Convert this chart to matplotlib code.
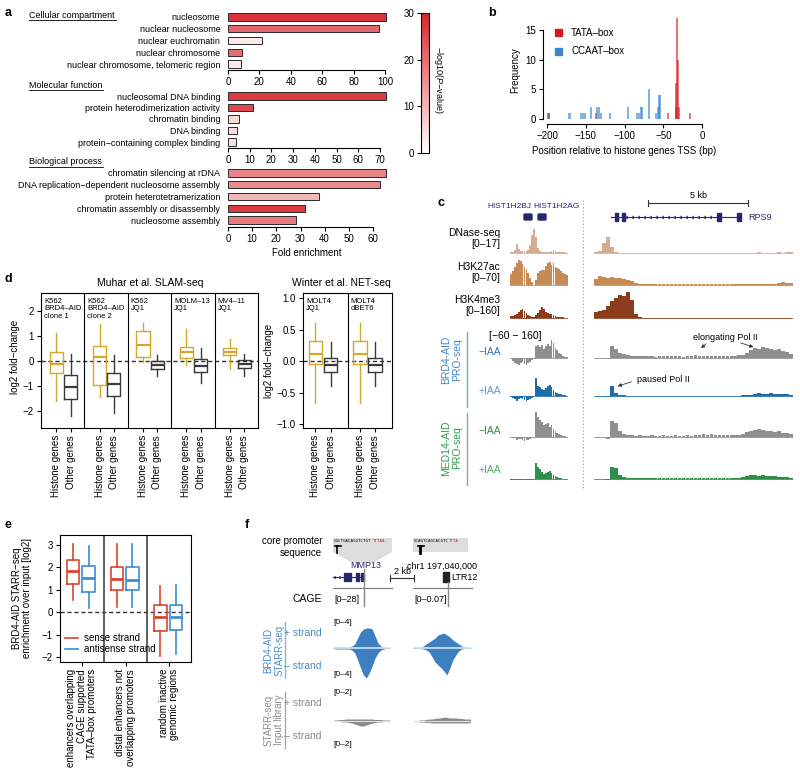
import numpy as np
import matplotlib
matplotlib.use('Agg')
import matplotlib.pyplot as plt
from matplotlib.colors import LinearSegmentedColormap, Normalize
from matplotlib.patches import Rectangle, FancyBboxPatch, Polygon
from matplotlib.cm import ScalarMappable

plt.rcParams['font.family'] = ['Liberation Sans', 'DejaVu Sans']
plt.rcParams['mathtext.fontset'] = 'custom'
plt.rcParams['mathtext.rm'] = 'Liberation Sans'
plt.rcParams['mathtext.it'] = 'Liberation Sans:italic'
plt.rcParams['font.size'] = 7
plt.rcParams['axes.linewidth'] = 0.8
plt.rcParams['xtick.major.width'] = 0.8
plt.rcParams['ytick.major.width'] = 0.8
plt.rcParams['xtick.major.size'] = 3
plt.rcParams['ytick.major.size'] = 3
plt.rcParams['xtick.major.pad'] = 2
plt.rcParams['ytick.major.pad'] = 2

# ---- panel a: GO enrichment ----
cc_terms = ['nucleosome', 'nuclear nucleosome', 'nuclear euchromatin', 'nuclear chromosome',
            'nuclear chromosome, telomeric region']
cc_fold = [100.5, 96, 21.5, 8.7, 8.2]
cc_logp = [28, 21, 3, 20, 3]
mf_terms = ['nucleosomal DNA binding', 'protein heterodimerization activity', 'chromatin binding',
            'DNA binding', 'protein−containing complex binding']
mf_fold = [72.7, 11.6, 5.0, 4.1, 3.7]
mf_logp = [27, 25, 5, 5, 4]
bp_terms = ['chromatin silencing at rDNA', 'DNA replication−dependent nucleosome assembly',
            'protein heterotetramerization', 'chromatin assembly or disassembly', 'nucleosome assembly']
bp_fold = [65.2, 62.9, 37.6, 31.8, 28.1]
bp_logp = [17, 16, 10, 27, 18]

# ---- panel b: motif positions ----
tata_pos = [-199, -198, -137, -44, -34, -33, -32, -31, -30, -15]
tata_count = [1, 1, 1, 1, 2, 6, 17, 10, 2, 1]
ccaat_pos = [-198, -171, -156, -153, -151, -143, -136, -133, -130, -119, -96, -84, -81, -79, -77,
             -69, -60, -57, -56, -54]
ccaat_count = [1, 1, 1, 1, 1, 2, 2, 2, 1, 1, 2, 1, 1, 2, 2, 5, 1, 2, 4, 4]

# ---- panel c: browser tracks (left = histone locus, right = RPS9) ----
dnase_l = [1, 1, 3, 9, 4, 2, 2, 2, 2, 3, 8, 18, 24, 16, 5, 2, 1, 1, 1, 1, 1, 2, 3, 2, 1, 1, 1, 1, 1, 0.5]
dnase_r = [1, 2, 10, 16, 6, 1, 0.5, 0.5, 0.3, 0.3, 0.3, 0.3, 0.3, 0.3, 0.3, 0.3, 0.3, 0.3, 0.3, 0.3,
           0.3, 0.3, 0.3, 0.3, 0.3, 0.3, 0.3, 0.3, 0.3, 0.3, 0.3, 0.3, 0.3, 0.3, 0.3, 0.3, 0.3, 0.3, 0.3, 0.3,
           0.4, 0.6, 0.4, 0.4, 0.5, 0.4, 0.8, 0.5, 0.6, 1.5]
k27_l = [11, 14, 18, 22, 25, 24, 21, 18, 16, 12, 7, 3, 0.5, 5, 12, 14, 15, 15, 19, 22, 23, 20, 22, 18,
         17, 16, 14, 12, 11, 10]
k27_r = [6, 9, 8, 7, 8, 7, 7, 6, 5, 4, 2, 1.5, 1, 1, 1, 1, 1.2, 1, 1, 1, 1, 1, 1.2, 1, 1, 1, 1, 1, 1.2, 1,
         1, 1, 1, 1.2, 1, 1, 1, 1, 1, 1, 1, 1, 1.2, 1, 1, 1.5, 2, 3, 2.5, 2]
k4_l = [2, 2, 3, 4, 6, 8, 9, 7, 5, 3, 2, 1, 1, 3, 5, 8, 11, 9, 6, 5, 4, 4, 3, 2, 1, 1, 1, 1, 0.5, 0.5]
k4_r = [6, 7, 8, 12, 17, 20, 23, 22, 26, 18, 4, 1, 0.5, 0.5, 0.5, 0.3, 0.3, 0.3, 0.3, 0.3,
        0.3, 0.3, 0.3, 0.3, 0.3, 0.3, 0.3, 0.3, 0.3, 0.3, 0.3, 0.3, 0.3, 0.3, 0.3, 0.3, 0.3, 0.3, 0.3, 0.3,
        0.3, 0.3, 0.3, 0.3, 0.3, 0.3, 0.3, 0.3, 0.3, 0.3]
brd_ctrl_l = [-1, -3, -5, -6, -7, -5, -4, -6, -7, -5, -4, -2, 0, 12, 13, 11, 13, 9, 12, 14, 12, 18, 15,
              10, 8, 5, 4, 2, 1, 1]
brd_ctrl_r = [0.5, 0.5, 0.5, -1, 12, 9, 5, 4, 3, 2.5, 2, 2, 2.5, 2, 2, 1.5, 2, 2, 2, 2.5,
              2, 2, 1.5, 2, 2, 3, 2, 2, 2, 2.5, 2, 2, 2, 2.5, 2, 2, 3, 3, 5, 8,
              10, 9, 11, 10, 9, 8, 9, 7, 6, 4]
brd_iaa_l = [-1, -2, -3, -5, -3, -2, -3, -4, -5, -4, -3, -2, 0, 18, 10, 9, 7, 6, 8, 10, 11, 9, 6, 4, 3,
             2, 2, 1, 1, 0.5]
brd_iaa_r = [0.3, 0.3, 0.3, -1, 10, 3, 1.5, 0.8, 0.5, 0.5, 0.5, 0.4, 0.5, 0.5, 0.4, 0.5, 0.5, 0.5, 0.4, 0.5,
             0.5, 0.5, 0.4, 0.5, 0.5, 0.5, 0.4, 0.5, 0.5, 0.5, 0.5, 0.4, 0.5, 0.5, 0.5, 0.5, 0.5, 0.6, 1, 1.5,
             2.5, 3, 2.5, 2.5, 3, 2, 2.5, 2, 2, 1.5]
med_ctrl_l = [0, -1, -1, -3, -2, -2, -3, -4, -3, -3, -2, -1, 0, 25, 20, 17, 15, 12, 13, 14, 10, 12, 8, 6,
              4, 3, 2, 1, 1, 0.5]
med_ctrl_r = [0.5, 0.5, 0.5, -2, 16, 14, 6, 3, 2, 2, 1.5, 2, 1.5, 1.5, 2, 1.5, 1.5, 2, 1.5, 1.5,
              2, 1.5, 1.5, 2, 1.5, 2, 2, 3, 2.5, 3, 2, 2.5, 2, 2, 2, 2, 2.5, 3, 5, 6,
              7, 8, 7, 6, 6, 5, 6, 4, 4, 3]
med_iaa_l = [-0.5, -0.5, -1, -1, -1, -0.5, -1, -1, -1, -0.5, -0.5, -0.5, 0, 16, 12, 10, 7, 5, 6, 7, 8, 6,
             4, 3, 2, 1.5, 1, 0.5, 0.5, 0.3]
med_iaa_r = [0.3, 0.3, 0.3, -1, 12, 11, 4, 2, 1, 1, 0.8, 0.8, 1, 0.8, 0.8, 1, 0.8, 0.8, 1, 0.8,
             0.8, 1, 0.8, 1, 0.8, 1, 1, 1.2, 1, 1, 1, 1.2, 1, 1, 1, 1, 1.5, 2, 3, 4,
             4, 3, 4, 3, 3, 3, 2, 2, 2, 1]

# ---- panel d: fold-change boxplots (whislo, q1, med, q3, whishi) ----
slam_facets = ['K562\nBRD4–AID\nclone 1', 'K562\nBRD4–AID\nclone 2', 'K562\nJQ1', 'MOLM–13\nJQ1', 'MV4–11\nJQ1']
slam_histone = [[-1.6, -0.47, -0.13, 0.37, 1.11], [-1.43, -0.96, 0.15, 0.6, 1.48],
                [-0.05, 0.16, 0.63, 1.21, 1.51], [-0.16, 0.13, 0.37, 0.57, 1.27],
                [-0.33, 0.23, 0.37, 0.51, 0.87]]
slam_other = [[-2.19, -1.51, -1.03, -0.55, 0.28], [-2.09, -1.39, -0.93, -0.49, 0.24],
              [-0.6, -0.32, -0.17, 0.0, 0.24], [-0.89, -0.45, -0.19, 0.1, 0.52],
              [-0.6, -0.29, -0.12, 0.04, 0.28]]
net_facets = ['MOLT4\nJQ1', 'MOLT4\ndBET6']
net_histone = [[-0.66, -0.05, 0.12, 0.32, 0.61], [-0.66, -0.05, 0.12, 0.32, 0.61]]
net_other = [[-0.39, -0.17, -0.06, 0.05, 0.31], [-0.39, -0.17, -0.06, 0.05, 0.31]]

# ---- panel e: STARR-seq enrichment ----
e_groups = ['enhancers overlapping\nCAGE supported\nTATA–box promoters',
            'distal enhancers not\noverlapping promoters',
            'random inactive\ngenomic regions']
e_sense = [[0.54, 1.28, 1.85, 2.33, 3.07], [0.24, 0.99, 1.49, 2.03, 3.03], [-1.97, -0.85, -0.21, 0.31, 1.19]]
e_antisense = [[0.21, 0.91, 1.51, 2.06, 2.96], [0.24, 0.99, 1.46, 2.0, 3.03], [-1.85, -0.81, -0.21, 0.33, 1.21]]

# ---- panel f: STARR-seq tracks (MMP13 / LTR12) ----
starr_plus_1 = [1, 1, 1, 1, 1, 1, 2, 4, 10, 16, 19, 20, 20, 19, 12, 5, 2, 1, 0.5, 0.5]
starr_minus_1 = [-1, -1, -1, -1, -1, -1, -2, -5, -12, -20, -27, -30, -25, -18, -10, -5, -2, -1, -0.5, -0.5]
starr_plus_2 = [0.5, 1, 1, 2, 4, 6, 8, 10, 13, 14, 15, 13, 11, 8, 6, 4, 2, 1, 0.5, 0.5]
starr_minus_2 = [0, 0, -0.5, -1, -2, -4, -9, -14, -17, -20, -23, -27, -20, -12, -7, -3, -1, -0.5, 0, 0]
input_plus_1 = [1, 1, 1.5, 1.5, 2, 2, 2, 2, 2, 2, 2, 2, 2, 2, 1.5, 1.5, 1.5, 1, 1, 1]
input_minus_1 = [-0.5, -0.5, -0.5, -1, -1, -1.5, -2, -3, -4, -5, -5, -4, -3, -2, -1.5, -1, -1, -0.5, -0.5, -0.5]
input_plus_2 = [0.5, 0.5, 1, 1, 1.5, 2, 2, 2.5, 3, 3, 4, 3.5, 3, 3, 3, 2.5, 2.5, 2, 2, 2]
input_minus_2 = [-0.5, -0.5, -1, -1, -1.5, -1.5, -2, -2, -2, -2, -2, -2, -2, -2, -2, -2, -2, -2, -2, -1.5]

W, H = 800, 770
fig = plt.figure(figsize=(8, 7.7), dpi=100)


def px_axes(x0, y0, x1, y1):
    return fig.add_axes([x0 / W, 1 - y1 / H, (x1 - x0) / W, (y1 - y0) / H])


# overlay for free text and decorations, drawn on top
ov = fig.add_axes([0, 0, 1, 1])
ov.set_xlim(0, W)
ov.set_ylim(H, 0)
ov.axis('off')
ov.set_zorder(10)

for lab, x, y in [('a', 8, 13), ('b', 492, 13), ('c', 441, 203), ('d', 8, 279), ('e', 8, 525), ('f', 247, 525)]:
    ov.text(x, y, lab, fontsize=9, fontweight='bold', ha='center', va='center')

# ================= panel a =================
go_cmap = LinearSegmentedColormap.from_list('go', ['#ffffff', '#d7262c'])
go_norm = Normalize(0, 30)


def go_axes(y_top, y_bot, row0, step, xmax, xticks, terms, fold, logp):
    ax = px_axes(228, y_top, 386, y_bot)
    rows = np.arange(len(terms))
    ax.barh(rows, fold, height=0.62, color=go_cmap(go_norm(logp)), edgecolor='#2a2a2a',
            linewidth=0.7, clip_on=False)
    ax.set_ylim((y_bot - row0) / step, (y_top - row0) / step)
    ax.set_xlim(0, xmax)
    ax.set_yticks(rows)
    ax.set_yticklabels(terms, fontsize=6.5)
    ax.tick_params(axis='y', length=0, pad=5.5)
    ax.set_xticks(xticks)
    ax.tick_params(axis='x', labelsize=7)
    for s in ['top', 'right', 'left']:
        ax.spines[s].set_visible(False)
    ax.spines['bottom'].set_bounds(xticks[0], xticks[-1])
    ax.patch.set_alpha(0)
    return ax


go_axes(11, 70, 17, 11.75, 158 / 1.57, [0, 20, 40, 60, 80, 100], cc_terms, cc_fold, cc_logp)
go_axes(90, 148, 96, 11.5, 158 / 2.171, [0, 10, 20, 30, 40, 50, 60, 70], mf_terms, mf_fold, mf_logp)
ax_bp = go_axes(167, 227, 173, 11.75, 158 / 2.417, [0, 10, 20, 30, 40, 50, 60], bp_terms, bp_fold, bp_logp)
ax_bp.set_xlabel('Fold enrichment', fontsize=7, labelpad=3)

for txt, y, x1 in [('Cellular compartment', 15, 116), ('Molecular function', 85, 103),
                   ('Biological process', 162, 103)]:
    ov.text(29, y, txt, fontsize=6.5, ha='left', va='center')
    ov.plot([29, x1], [y + 4.5, y + 4.5], color='black', lw=0.6)

cax = px_axes(421, 13, 429, 153)
cb = fig.colorbar(ScalarMappable(norm=go_norm, cmap=go_cmap), cax=cax, ticks=[0, 10, 20, 30])
cax.yaxis.set_ticks_position('left')
cax.tick_params(labelsize=7, length=3)
cb.outline.set_linewidth(0.8)
ov.text(438, 80, r'−log10($\it{P}$−value)', rotation=270, fontsize=6.5, ha='center', va='center')

# ================= panel b =================
axb = px_axes(543, 15, 712, 124)
axb.bar(tata_pos, tata_count, width=2.6, color='#d7191c', alpha=0.6, linewidth=0)
axb.bar(ccaat_pos, ccaat_count, width=2.6, color='#2f7fd0', alpha=0.6, linewidth=0)
axb.set_xlim(-205.2, 12.9)
axb.set_ylim(-0.84, 17.5)
for s in ['top', 'right']:
    axb.spines[s].set_visible(False)
axb.spines['left'].set_bounds(0, 15)
axb.spines['bottom'].set_bounds(-200, 0)
axb.set_xticks([-200, -150, -100, -50, 0])
axb.set_xticklabels(['−200', '−150', '−100', '−50', '0'])
axb.set_yticks([0, 5, 10, 15])
axb.tick_params(labelsize=7)
axb.patch.set_alpha(0)
ov.text(624, 151, 'Position relative to histone genes TSS (bp)', fontsize=7, ha='center', va='center')
ov.text(515, 70, 'Frequency', fontsize=7, rotation=90, ha='center', va='center')
ov.add_patch(Rectangle((555, 29), 7, 7, color='#d7191c'))
ov.add_patch(Rectangle((555, 48), 7, 7, color='#3a86d0'))
ov.text(571, 33, 'TATA–box', fontsize=7, va='center')
ov.text(571, 51, 'CCAAT–box', fontsize=7, va='center')

# ================= panel c =================
navy = '#27276e'
c_tracks = [
    (dnase_l, dnase_r, 253, 30, 1, '#d6ab8e'),
    (k27_l, k27_r, 285, 28, 1, '#c68a55'),
    (k4_l, k4_r, 318, 28, 1, '#8c3b1c'),
    (brd_ctrl_l, brd_ctrl_r, 358, 22, 9, '#8f8f8f'),
    (brd_iaa_l, brd_iaa_r, 396, 22, 9, '#1d6eab'),
    (med_ctrl_l, med_ctrl_r, 437, 26, 6, '#8f8f8f'),
    (med_iaa_l, med_iaa_r, 479, 20, 4, '#2f8f4a'),
]


def signal_axes(x0, x1, base, up, down, vals, color, fill=False):
    ax = px_axes(x0, base - up, x1, base + down)
    n = len(vals)
    if fill:
        ax.fill_between(np.arange(n), vals, 0, color=color, linewidth=0)
    else:
        ax.bar(np.arange(n), vals, width=0.9, color=color, linewidth=0)
    ax.axhline(0, color=color, lw=0.6)
    ax.set_xlim(-0.5, n - 0.5)
    ax.set_ylim(-down, up)
    ax.axis('off')
    return ax


for vl, vr, base, up, down, col in c_tracks:
    signal_axes(510, 568, base, up, down, vl, col)
    signal_axes(594, 793, base, up, down, vr, col)

ov.plot([583, 583], [200, 490], ls=(0, (1, 2)), color='#999999', lw=0.8)
ov.text(509, 207, 'HIST1H2BJ', fontsize=6, color=navy, ha='center', va='center')
ov.text(557, 207, 'HIST1H2AG', fontsize=6, color=navy, ha='center', va='center')
ov.add_patch(FancyBboxPatch((525, 215), 6, 4, boxstyle='round,pad=1', color=navy))
ov.add_patch(FancyBboxPatch((539, 215), 6, 4, boxstyle='round,pad=1', color=navy))
ov.plot([648, 748], [203, 203], color='#333333', lw=0.8)
ov.plot([648, 648], [200, 206], color='#333333', lw=0.8)
ov.plot([748, 748], [200, 206], color='#333333', lw=0.8)
ov.text(698, 196, '5 kb', fontsize=6.5, ha='center', va='center')
ov.plot([611, 740], [217, 217], color=navy, lw=0.8)
ov.plot([626, 716], [217, 217], color=navy, lw=2.4, ls=(0, (0.4, 1.4)))
for ex in [(615, 2.5), (622, 3), (717, 3.5), (737, 4)]:
    ov.add_patch(Rectangle((ex[0], 213), ex[1], 8, color=navy))
ov.text(748, 218, 'RPS9', fontsize=6.5, color=navy, va='center')

for txt, y in [('DNase-seq', 233), ('[0–17]', 244), ('H3K27ac', 267), ('[0–70]', 278),
               ('H3K4me3', 300), ('[0–160]', 311)]:
    ov.text(500, y, txt, fontsize=7.5, ha='right', va='center')
ov.text(489, 336, '[−60 − 160]', fontsize=7.5, ha='left', va='center')
ov.text(490, 352, '−IAA', fontsize=7.5, color='#2e78b5', ha='center', va='center')
ov.text(490, 391, '+IAA', fontsize=7.5, color='#5a9bd0', ha='center', va='center')
ov.text(490, 431, '−IAA', fontsize=7.5, color='#2e8b47', ha='center', va='center')
ov.text(490, 470, '+IAA', fontsize=7.5, color='#5aa96c', ha='center', va='center')
ov.text(452, 360, 'BRD4-AID\nPRO-seq', fontsize=7.5, color='#3f88c5', rotation=90,
        ha='center', va='center', linespacing=1.1)
ov.plot([467, 467], [332, 407], color='#6fa6d6', lw=1)
ov.text(452, 448, 'MED14-AID\nPRO-seq', fontsize=7.5, color='#2e9b50', rotation=90,
        ha='center', va='center', linespacing=1.1)
ov.plot([467, 467], [413, 485], color='#6fbf85', lw=1)

arrow = dict(arrowstyle='-|>', lw=0.6, color='#333333', mutation_scale=5)
ov.text(725, 337, 'elongating Pol II', fontsize=6.5, ha='center', va='center')
ov.annotate('', xy=(699, 350), xytext=(708, 342), arrowprops=arrow)
ov.annotate('', xy=(756, 348), xytext=(738, 342), arrowprops=arrow)
ov.text(637, 379, 'paused Pol II', fontsize=6.5, ha='left', va='center')
ov.annotate('', xy=(615, 387), xytext=(634, 381), arrowprops=arrow)

# ================= panel d =================
gold = '#d4a82a'
dark = '#3a3a3a'


def draw_boxes(ax, stats, pos, col, width, lw, mlw):
    recs = [dict(whislo=s[0], q1=s[1], med=s[2], q3=s[3], whishi=s[4], fliers=[]) for s in stats]
    ax.bxp(recs, positions=pos, widths=width, showfliers=False, showcaps=False,
           boxprops=dict(color=col, lw=lw), whiskerprops=dict(color=col, lw=lw),
           medianprops=dict(color=col, lw=mlw), manage_ticks=False)


def facet_axes(x0, x1, facets, hist, other, off_h, off_o, ylim, yticks, yticklabels):
    ax = px_axes(x0, 293, x1, 428)
    n = len(facets)
    ax.axhline(0, color='#333333', lw=1, ls=(0, (3, 2)), zorder=0)
    ph = [k + off_h for k in range(n)]
    po = [k + off_o for k in range(n)]
    draw_boxes(ax, hist, ph, gold, 0.3, 1.0, 1.6)
    draw_boxes(ax, other, po, dark, 0.3, 1.0, 1.6)
    for k in range(1, n):
        ax.axvline(k, color='black', lw=0.8)
    for k, lab in enumerate(facets):
        ax.text(k + 0.07, 0.965, lab, transform=ax.get_xaxis_transform(), fontsize=5.5,
                va='top', ha='left', linespacing=1.15)
    ax.set_xlim(0, n)
    ax.set_ylim(*ylim)
    ticks = sorted(ph + po)
    ax.set_xticks(ticks)
    ax.set_xticklabels(['Histone genes', 'Other genes'] * n, rotation=90, fontsize=7)
    ax.set_yticks(yticks)
    ax.set_yticklabels(yticklabels, fontsize=7)
    return ax


facet_axes(41, 258, slam_facets, slam_histone, slam_other, 0.35, 0.68, (-2.68, 2.72),
           [-2, -1, 0, 1, 2], ['−2', '−1', '0', '1', '2'])
facet_axes(303, 392, net_facets, net_histone, net_other, 0.28, 0.62, (-1.06, 1.08),
           [-1, -0.5, 0, 0.5, 1], ['−1.0', '−0.5', '0.0', '0.5', '1.0'])
ov.text(150, 283, 'Muhar et al. SLAM-seq', fontsize=7.5, ha='center', va='center')
ov.text(341, 283, 'Winter et al. NET-seq', fontsize=7.5, ha='center', va='center')
ov.text(15, 357, 'log2 fold−change', fontsize=7, rotation=90, ha='center', va='center')
ov.text(269, 361, 'log2 fold−change', fontsize=7, rotation=90, ha='center', va='center')

# ================= panel e =================
red_s = '#d9452f'
blue_a = '#3b8ed6'
axe = px_axes(60, 535, 191, 662)
axe.axhline(0, color='#333333', lw=1, ls=(0, (3, 2)), zorder=0)
draw_boxes(axe, e_sense, [k + 0.3 for k in range(3)], red_s, 0.28, 1.2, 2)
draw_boxes(axe, e_antisense, [k + 0.66 for k in range(3)], blue_a, 0.29, 1.2, 2)
for k in [1, 2]:
    axe.axvline(k, color='#444444', lw=1.2)
axe.set_xlim(0, 3)
axe.set_ylim(-2.22, 3.45)
axe.set_yticks([-2, -1, 0, 1, 2, 3])
axe.set_yticklabels(['−2', '−1', '0', '1', '2', '3'], fontsize=7)
axe.set_xticks([0.5, 1.5, 2.5])
axe.set_xticklabels(e_groups, rotation=90, fontsize=7, multialignment='right', linespacing=1.05)
ov.text(22, 598, 'BRD4-AID STARR−seq\nenrichment over input [log2]', fontsize=7, rotation=90,
        ha='center', va='center', linespacing=1.1)
ov.plot([65, 78], [638, 638], color=red_s, lw=1.2)
ov.plot([65, 78], [649, 649], color=blue_a, lw=1.2)
ov.text(84, 638, 'sense strand', fontsize=7, va='center')
ov.text(84, 649, 'antisense strand', fontsize=7, va='center')

# ================= panel f =================
grey_txt = '#8c8c8c'
ov.text(322, 547, 'core promoter\nsequence', fontsize=7, ha='right', va='center',
        multialignment='right', linespacing=1.15)
ov.add_patch(Rectangle((333, 538), 59, 14, color='#dddddd', lw=0))
ov.add_patch(Polygon([(333, 552), (392, 552), (373, 563), (353, 563)], closed=True, color='#dddddd', lw=0))
ov.add_patch(Rectangle((413, 538), 55, 14, color='#dddddd', lw=0))
ov.text(334, 541.5, 'CGCTGACAGGTCTGT', fontsize=3, family='DejaVu Sans Mono', va='center')
ov.text(373, 541.5, 'TTTAA', fontsize=3, family='DejaVu Sans Mono', va='center', color='#d62020')
ov.text(414, 541.5, 'GCAGTCAGCACGTC', fontsize=3, family='DejaVu Sans Mono', va='center')
ov.text(449, 541.5, 'TTTA', fontsize=3, family='DejaVu Sans Mono', va='center', color='#d62020')
ov.plot([335, 341], [546, 546], color='black', lw=1.2)
ov.plot([336.5, 336.5], [546, 553], color='black', lw=1.2)
ov.plot([418, 424], [546, 546], color='black', lw=1.2)
ov.plot([420, 420], [546, 553], color='black', lw=2)
ov.text(366, 566, 'MMP13', fontsize=6.5, color=navy, ha='center', va='center')
ov.text(442, 566, 'chr1 197,040,000', fontsize=6.5, ha='center', va='center')
ov.plot([333, 363], [577, 577], color=navy, lw=0.8)
ov.plot([334, 344], [577, 577], color=navy, lw=2.2, ls=(0, (0.4, 1.2)))
for ex in [344, 348, 356, 361]:
    ov.add_patch(Rectangle((ex, 573), 2.5, 8, color=navy))
ov.plot([390, 414], [578, 578], color='#333333', lw=0.8)
ov.plot([390, 390], [575, 581], color='#333333', lw=0.8)
ov.plot([414, 414], [575, 581], color='#333333', lw=0.8)
ov.text(402, 572, '2 kb', fontsize=6.5, ha='center', va='center')
ov.add_patch(Rectangle((443, 572), 6, 10, color='#222222'))
ov.text(451, 577, 'LTR12', fontsize=6.5, ha='left', va='center')
ov.plot([333, 392], [588, 588], color='#777777', lw=0.8)
ov.plot([413, 472], [588, 588], color='#777777', lw=0.8)
ov.plot([364, 364], [569, 606], color='#888888', lw=1)
ov.plot([448, 448], [582, 606], color='#888888', lw=1)
ov.text(322, 599, 'CAGE', fontsize=7.5, ha='right', va='center')
ov.text(334, 599, '[0–28]', fontsize=6.5, ha='left', va='center')
ov.text(414, 599, '[0–0.07]', fontsize=6.5, ha='left', va='center')

starr_blue = '#3d7fc0'
for x0, x1, vp, vm in [(333, 391, starr_plus_1, starr_minus_1), (413, 472, starr_plus_2, starr_minus_2)]:
    a1 = signal_axes(x0, x1, 648, 24, 32, vp, starr_blue, fill=True)
    a1.fill_between(np.arange(len(vm)), vm, 0, color=starr_blue, linewidth=0)
    a1.axhline(0, color='#d8e6f3', lw=1.2)
for x0, x1, vp, vm in [(333, 391, input_plus_1, input_minus_1), (413, 472, input_plus_2, input_minus_2)]:
    a2 = signal_axes(x0, x1, 721, 8, 8, vp, '#8a8a8a', fill=True)
    a2.fill_between(np.arange(len(vm)), vm, 0, color='#8a8a8a', linewidth=0)
    a2.axhline(0, color='#e0e0e0', lw=0.8)

ov.text(322, 633, '+ strand', fontsize=7.5, color='#4a8cc8', ha='right', va='center')
ov.text(322, 666, '– strand', fontsize=7.5, color='#4a8cc8', ha='right', va='center')
ov.text(322, 703, '+ strand', fontsize=7.5, color=grey_txt, ha='right', va='center')
ov.text(322, 736, '– strand', fontsize=7.5, color=grey_txt, ha='right', va='center')
for y, txt in [(623, '[0–4]'), (675, '[0–4]'), (693, '[0–2]'), (745, '[0–2]')]:
    ov.text(333, y, txt, fontsize=6, ha='left', va='center')
ov.text(274, 650, 'BRD4-AID\nSTARR-seq', fontsize=7, color='#4a8cc8', rotation=90,
        ha='center', va='center', linespacing=1.1)
ov.plot([285, 285], [622, 678], color='#8ab4dd', lw=1)
ov.text(274, 720, 'STARR-seq\nInput library', fontsize=7, color=grey_txt, rotation=90,
        ha='center', va='center', linespacing=1.1)
ov.plot([285, 285], [692, 748], color='#aaaaaa', lw=1)

fig.savefig('out.png', dpi=100)
